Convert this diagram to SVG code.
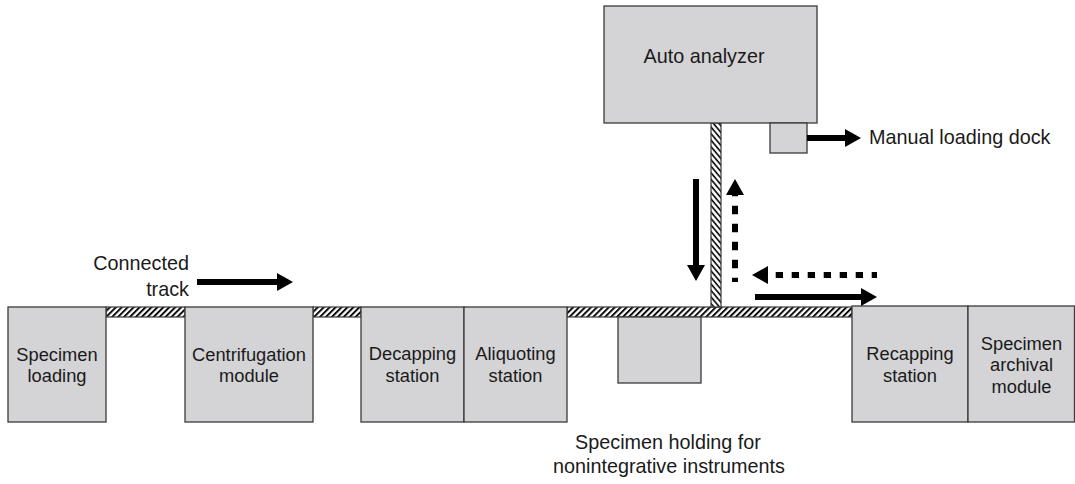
<svg xmlns="http://www.w3.org/2000/svg" width="1075" height="484" viewBox="0 0 1075 484">
  <style>
    .box { fill: #d4d4d6; stroke: #3a3a3a; stroke-width: 1.3; }
    .track { stroke: #3a3a3a; stroke-width: 1.2; }
    .lbl { font-family: "Liberation Sans", Arial, Helvetica, sans-serif; font-size: 18.3px; fill: #1a1a1a; text-anchor: middle; }
    .big { font-size: 19.8px; }
    .shaft { stroke: #000; stroke-width: 6; fill: none; }
  </style>
  <defs>
    <!-- diagonal hatching for the conveyor track -->
    <pattern id="hatchH" patternUnits="userSpaceOnUse" width="4.2" height="4.2" patternTransform="rotate(45)">
      <rect width="4.2" height="4.2" fill="#fff"/>
      <line x1="1" y1="0" x2="1" y2="4.2" stroke="#000" stroke-width="1.9"/>
    </pattern>
    <pattern id="hatchV" patternUnits="userSpaceOnUse" width="4.2" height="4.2" patternTransform="rotate(-40)">
      <rect width="4.2" height="4.2" fill="#fff"/>
      <line x1="1" y1="0" x2="1" y2="4.2" stroke="#000" stroke-width="1.6"/>
    </pattern>
    <marker id="head" markerUnits="userSpaceOnUse" viewBox="0 0 16 18" markerWidth="16" markerHeight="18" refX="0" refY="9" orient="auto">
      <path d="M0,0 L16,9 L0,18 Z" fill="#000"/>
    </marker>
  </defs>

  <!-- track segments -->
  <g id="track">
    <rect class="track" x="106" y="307" width="79" height="10" fill="url(#hatchH)"/>
    <rect class="track" x="313" y="307" width="48" height="10" fill="url(#hatchH)"/>
    <rect class="track" x="567" y="307" width="285" height="10" fill="url(#hatchH)"/>
    <rect class="track" x="711" y="123" width="10" height="184" fill="url(#hatchV)"/>
  </g>

  <g id="auto-analyzer">
    <rect class="box" x="604" y="6" width="213" height="117"/>
    <text class="lbl big" x="704" y="63">Auto analyzer</text>
  </g>

  <g id="manual-loading-dock">
    <rect class="box" x="770" y="123" width="37" height="30"/>
    <text class="lbl big" x="869" y="144" style="text-anchor:start">Manual loading dock</text>
  </g>

  <g id="specimen-loading">
    <rect class="box" x="8" y="307" width="98" height="115"/>
    <text class="lbl" x="57" y="361">Specimen</text>
    <text class="lbl" x="57" y="382">loading</text>
  </g>

  <g id="centrifugation-module">
    <rect class="box" x="185" y="307" width="128" height="115"/>
    <text class="lbl" x="249" y="361">Centrifugation</text>
    <text class="lbl" x="249" y="382">module</text>
  </g>

  <g id="decapping-station">
    <rect class="box" x="361" y="307" width="103" height="115"/>
    <text class="lbl" x="412.5" y="360">Decapping</text>
    <text class="lbl" x="412.5" y="382">station</text>
  </g>

  <g id="aliquoting-station">
    <rect class="box" x="464" y="307" width="103" height="115"/>
    <text class="lbl" x="515.5" y="360">Aliquoting</text>
    <text class="lbl" x="515.5" y="382">station</text>
  </g>

  <g id="specimen-holding">
    <rect class="box" x="618" y="317" width="83" height="66"/>
    <text class="lbl big" x="668" y="449">Specimen holding for</text>
    <text class="lbl big" x="669" y="473">nonintegrative instruments</text>
  </g>

  <g id="recapping-station">
    <rect class="box" x="852" y="306" width="116" height="116"/>
    <text class="lbl" x="910" y="360">Recapping</text>
    <text class="lbl" x="910" y="382">station</text>
  </g>

  <g id="specimen-archival-module">
    <rect class="box" x="968" y="306" width="106.5" height="116"/>
    <text class="lbl" x="1021.5" y="350">Specimen</text>
    <text class="lbl" x="1021.5" y="371">archival</text>
    <text class="lbl" x="1021.5" y="393">module</text>
  </g>

  <g id="connected-track-label">
    <text class="lbl big" x="189" y="270" style="text-anchor:end">Connected</text>
    <text class="lbl big" x="189" y="296" style="text-anchor:end">track</text>
  </g>

  <!-- flow arrows -->
  <g id="connectors">
    <line class="shaft" x1="197" y1="282" x2="277" y2="282" marker-end="url(#head)"/>
    <line class="shaft" x1="807" y1="138" x2="845" y2="138" marker-end="url(#head)"/>
    <line class="shaft" x1="696" y1="179" x2="696" y2="265" marker-end="url(#head)"/>
    <line class="shaft" x1="755" y1="297" x2="861" y2="297" marker-end="url(#head)"/>
    <line class="shaft" x1="735" y1="282" x2="735" y2="195" style="stroke-dasharray:8.5 9.5;stroke-dashoffset:4.2" marker-end="url(#head)"/>
    <line class="shaft" x1="877" y1="275" x2="768" y2="275" style="stroke-dasharray:7.3 8.7;stroke-dashoffset:2" marker-end="url(#head)"/>
  </g>
</svg>
